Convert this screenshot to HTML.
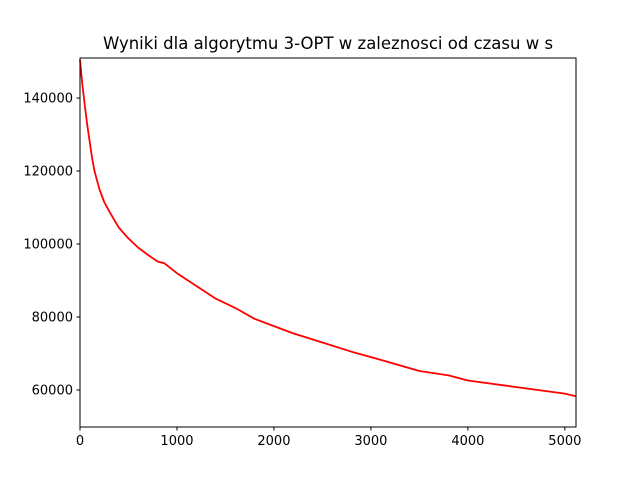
<!DOCTYPE html>
<html><head><meta charset="utf-8"><style>
body{margin:0;background:#fff;width:640px;height:480px;overflow:hidden}
text{font-family:"DejaVu Sans","Liberation Sans",sans-serif}
</style></head><body>
<svg id="chart" width="640" height="480">
<rect width="640" height="480" fill="#fff"/>
<text x="328" y="49" font-size="16.5" text-anchor="middle">Wyniki dla algorytmu 3-OPT w zaleznosci od czasu w s</text>
<g id="ticks"></g>
<path id="line" fill="none" stroke="#ff0000" stroke-width="1.8" stroke-linejoin="round"/>
<rect x="80" y="58" width="496" height="369" fill="none" stroke="#000" stroke-width="1"/>
</svg>
<script>
const times=[0,25,50,75,100,125,150,200,250,300,400,500,600,700,800,870,1000,1200,1400,1600,1800,2000,2200,2500,2800,3000,3200,3500,3800,4000,4500,5000,5115];
const values=[150500,143500,138000,132500,128000,123500,120000,115000,111500,109000,104500,101500,99000,97000,95200,94700,92000,88500,85000,82500,79500,77500,75500,73000,70500,69000,67500,65200,64000,62600,60800,59000,58300];
const xTicks=[0,1000,2000,3000,4000,5000];
const yTicks=[60000,80000,100000,120000,140000];
const X0=80,X1=576,Y0=427,Y1=58,xmin=0,xmax=5115,ymin=49860,ymax=150960;
const sx=v=>X0+(v-xmin)/(xmax-xmin)*(X1-X0);
const sy=v=>Y0-(v-ymin)/(ymax-ymin)*(Y0-Y1);
const ns="http://www.w3.org/2000/svg";
const g=document.getElementById('ticks');
function mk(t,a){const e=document.createElementNS(ns,t);for(const k in a)e.setAttribute(k,a[k]);g.appendChild(e);return e;}
xTicks.forEach(v=>{
 const l=mk('line',{x1:sx(v),x2:sx(v),y1:Y0,y2:Y0+3.5,stroke:'#000'});
 
 
 const t=mk('text',{x:sx(v),y:Y0+18,'font-size':'13','text-anchor':'middle'});
 t.textContent=v;
 
 
});
yTicks.forEach(v=>{
 const l=mk('line',{x1:X0-3.5,x2:X0,y1:sy(v),y2:sy(v),stroke:'#000'});
 
 
 const t=mk('text',{x:X0-7,y:sy(v)+4.5,'font-size':'13','text-anchor':'end'});
 t.textContent=v;
 
 
});
document.getElementById('line').setAttribute('d',times.map((t,i)=>(i?'L':'M')+sx(t).toFixed(1)+','+sy(values[i]).toFixed(1)).join(''));
</script>
</body></html>
